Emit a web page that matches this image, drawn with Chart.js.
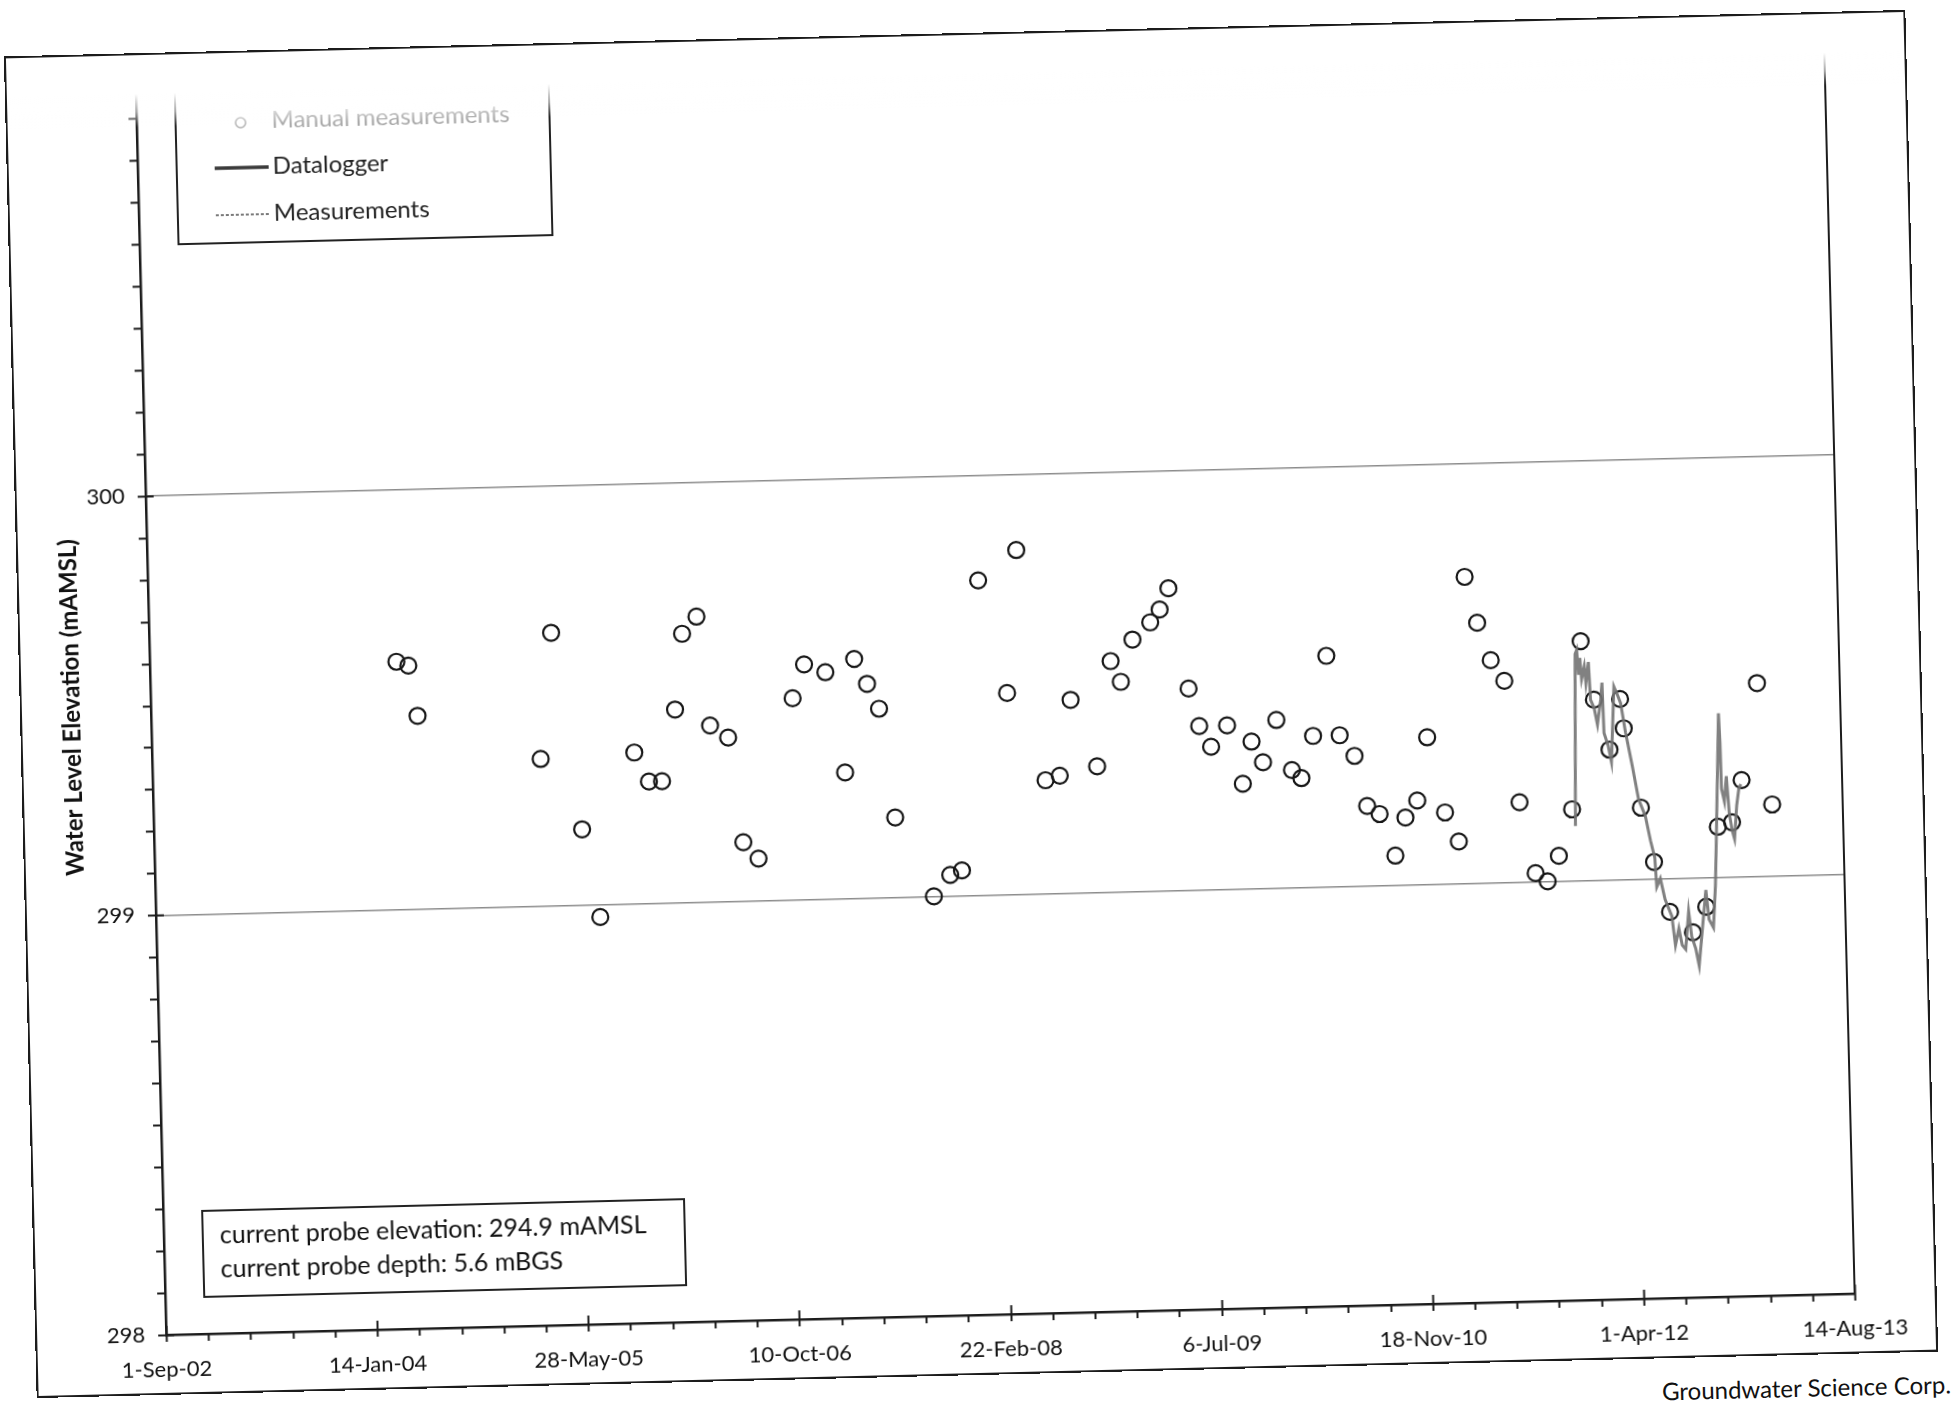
<!DOCTYPE html>
<html>
<head>
<meta charset="utf-8">
<title>Water Level Elevation</title>
<script src="https://cdn.jsdelivr.net/npm/chart.js@4.4.1/dist/chart.umd.min.js"></script>
<style>
  html, body { margin: 0; padding: 0; background: #fff; }
  body { width: 1956px; height: 1401px; overflow: hidden; position: relative; font-family: Lato, "Open Sans", sans-serif; }
  #sheet { position: absolute; left: 20px; top: 33px; width: 1902px; height: 1342px; transform: rotate(-1.4deg); transform-origin: 50% 50%; }
  #chart { position: absolute; left: 0; top: 0; }
  #frame { position: absolute; left: 0; top: 0; width: 1902px; height: 1342px; box-sizing: border-box; border: 2.5px solid #1c1c1c; pointer-events: none; }
  #credit { position: absolute; left: 1625px; top: 1360px; font-size: 24px; color: #111; white-space: nowrap; }
</style>
</head>
<body>
<div id="sheet">
  <canvas id="chart" width="1902" height="1342"></canvas>
  <div id="frame"></div>
  <div id="credit">Groundwater Science Corp.</div>
</div>
<script>
// ===== Data =====
const manualDates = [
  "2004-04-07", "2004-05-05", "2004-05-24", "2005-03-09", "2005-04-10", "2005-06-11", "2005-07-19", "2005-10-17", "2005-11-19", "2005-12-20",
  "2006-01-24", "2006-02-14", "2006-03-21", "2006-04-16", "2006-05-28", "2006-06-27", "2006-08-01", "2006-10-30", "2006-11-28", "2007-01-17",
  "2007-02-27", "2007-03-27", "2007-04-25", "2007-05-22", "2007-06-23", "2007-09-18", "2007-10-28", "2007-11-25", "2008-01-19", "2008-03-21",
  "2008-04-20", "2008-06-15", "2008-07-19", "2008-08-18", "2008-10-16", "2008-11-23", "2008-12-16", "2009-01-15", "2009-02-27", "2009-03-22",
  "2009-04-13", "2009-05-25", "2009-06-17", "2009-07-14", "2009-08-22", "2009-09-25", "2009-10-18", "2009-11-13", "2009-12-17", "2010-01-20",
  "2010-02-11", "2010-03-13", "2010-04-18", "2010-05-15", "2010-06-18", "2010-07-15", "2010-08-13", "2010-09-17", "2010-10-13", "2010-11-11",
  "2010-12-08", "2011-01-15", "2011-02-15", "2011-03-16", "2011-04-12", "2011-05-12", "2011-06-12", "2011-07-11", "2011-08-14", "2011-09-11",
  "2011-10-09", "2011-11-12", "2011-12-12", "2012-01-09", "2012-02-12", "2012-03-11", "2012-03-18", "2012-04-23", "2012-05-21", "2012-06-25",
  "2012-08-17", "2012-09-19", "2012-10-21", "2012-11-24", "2012-12-19", "2013-01-30", "2013-02-28"
];
const manualLevels = [
  299.59, 299.58, 299.46, 299.35, 299.65, 299.18, 298.97, 299.36, 299.29, 299.29,
  299.46, 299.64, 299.68, 299.42, 299.39, 299.14, 299.10, 299.48, 299.56, 299.54,
  299.30, 299.57, 299.51, 299.45, 299.19, 299.00, 299.05, 299.06, 299.75, 299.48,
  299.82, 299.27, 299.28, 299.46, 299.30, 299.55, 299.50, 299.60, 299.64, 299.67,
  299.72, 299.48, 299.39, 299.34, 299.39, 299.25, 299.35, 299.30, 299.40, 299.28,
  299.26, 299.36, 299.55, 299.36, 299.31, 299.19, 299.17, 299.07, 299.16, 299.20,
  299.35, 299.17, 299.10, 299.73, 299.62, 299.53, 299.48, 299.19, 299.02, 299.00,
  299.06, 299.17, 299.57, 299.43, 299.31, 299.43, 299.36, 299.17, 299.04, 298.92,
  298.87, 298.93, 299.12, 299.13, 299.23, 299.46, 299.17
];

const loggerDates = [
  "2011-11-19", "2011-11-28", "2011-12-02", "2011-12-05", "2011-12-09", "2011-12-12", "2011-12-19", "2011-12-22", "2011-12-29", "2012-01-01",
  "2012-01-09", "2012-01-16", "2012-01-25", "2012-01-29", "2012-01-31", "2012-02-09", "2012-02-16", "2012-02-26", "2012-03-05", "2012-03-12",
  "2012-03-22", "2012-04-05", "2012-04-18", "2012-05-03", "2012-05-14", "2012-05-23", "2012-05-26", "2012-06-04", "2012-06-14", "2012-06-29",
  "2012-07-06", "2012-07-15", "2012-07-22", "2012-07-30", "2012-08-08", "2012-08-14", "2012-08-23", "2012-08-30", "2012-09-09", "2012-09-19",
  "2012-09-25", "2012-10-05", "2012-10-12", "2012-10-18", "2012-10-29", "2012-10-31", "2012-11-01", "2012-11-07", "2012-11-13", "2012-11-18",
  "2012-11-24", "2012-11-29", "2012-12-06", "2012-12-12", "2012-12-17"
];
const loggerLevels = [
  299.13, 299.54, 299.55, 299.49, 299.53, 299.48, 299.51, 299.47, 299.52, 299.43,
  299.41, 299.37, 299.43, 299.47, 299.35, 299.32, 299.28, 299.46, 299.44, 299.42,
  299.35, 299.27, 299.19, 299.15, 299.09, 299.05, 298.98, 299.00, 298.95, 298.91,
  298.84, 298.88, 298.84, 298.83, 298.92, 298.86, 298.83, 298.79, 298.88, 298.97,
  298.90, 298.88, 298.98, 299.12, 299.39, 299.32, 299.21, 299.18, 299.24, 299.15,
  299.11, 299.09, 299.17, 299.21, 299.22
];

const xTickLabels = ["1-Sep-02", "14-Jan-04", "28-May-05", "10-Oct-06", "22-Feb-08", "6-Jul-09", "18-Nov-10", "1-Apr-12", "14-Aug-13"];
const yTickLabels = ["298", "299", "300", "301"];
const legendLabels = ["Manual measurements", "Datalogger", "Measurements"];
const probeNotes = ["current probe elevation: 294.9 mAMSL", "current probe depth: 5.6 mBGS"];

// ===== Helpers =====
function dayNum(s) {
    const [y, m, d] = s.split("-").map(Number);
    return Date.UTC(y, m - 1, d) / 864e5;
}
const xStart = dayNum("2002-09-01");
const xStep = 500;
const xEnd = xStart + xStep * (xTickLabels.length - 1);

const manualPoints = manualDates.map((d, i) => ({ x: dayNum(d), y: manualLevels[i] }));
const loggerPoints = loggerDates.map((d, i) => ({ x: dayNum(d), y: loggerLevels[i] }));

Chart.defaults.font.family = "Lato, 'Open Sans', sans-serif";
Chart.defaults.color = "#111";

// ===== Tick marks, plot border, legend box, probe note =====
const decorPlugin = {
    id: "decor",
    afterDraw(chart) {
        const { ctx, chartArea: a, scales: { x, y } } = chart;
        ctx.save();

        // Plot area right edge
        ctx.strokeStyle = "#1c1c1c";
        ctx.lineWidth = 2;
        ctx.beginPath();
        ctx.moveTo(a.right, a.top);
        ctx.lineTo(a.right, a.bottom);
        ctx.stroke();

        // Y ticks: minor outside, major crossing the axis
        for (let i = 0; i <= 30; i++) {
            const py = Math.round(y.getPixelForValue(298 + i / 10)) + 0.5;
            const major = i % 10 === 0;
            ctx.beginPath();
            ctx.moveTo(a.left - 8, py);
            ctx.lineTo(major ? a.left + 8 : a.left, py);
            ctx.stroke();
        }
        // X ticks every 100 days, labelled ones cross the axis
        for (let i = 0; i <= 40; i++) {
            const px = Math.round(x.getPixelForValue(xStart + i * 100)) + 0.5;
            const major = i % 5 === 0;
            ctx.beginPath();
            ctx.moveTo(px, major ? a.bottom - 9 : a.bottom);
            ctx.lineTo(px, a.bottom + 7);
            ctx.stroke();
        }

        // Legend
        const lx = a.left + 39, ly = 35, lw = 374, lh = 157;
        ctx.lineWidth = 2;
        ctx.strokeStyle = "#222";
        ctx.strokeRect(lx, ly, lw, lh);
        ctx.font = "24px Lato";
        ctx.textBaseline = "middle";
        ctx.textAlign = "left";

        ctx.strokeStyle = "#b0b0b0";
        ctx.lineWidth = 1.5;
        ctx.beginPath();
        ctx.arc(lx + 65, 72, 5, 0, Math.PI * 2);
        ctx.stroke();
        ctx.fillStyle = "#a8a8a8";
        ctx.fillText(legendLabels[0], lx + 96, 70);

        ctx.strokeStyle = "#3a3a3a";
        ctx.lineWidth = 3.5;
        ctx.beginPath();
        ctx.moveTo(lx + 38, 117);
        ctx.lineTo(lx + 92, 117);
        ctx.stroke();
        ctx.fillStyle = "#222";
        ctx.fillText(legendLabels[1], lx + 96, 116);

        ctx.strokeStyle = "#7a7a7a";
        ctx.lineWidth = 2;
        ctx.setLineDash([3, 2]);
        ctx.beginPath();
        ctx.moveTo(lx + 38, 164);
        ctx.lineTo(lx + 92, 164);
        ctx.stroke();
        ctx.setLineDash([]);
        ctx.fillText(legendLabels[2], lx + 96, 163);

        // Probe note box
        const bx = a.left + 39, by = 1159, bw = 482, bh = 86;
        ctx.strokeStyle = "#222";
        ctx.lineWidth = 2;
        ctx.strokeRect(bx, by, bw, bh);
        ctx.font = "25px Lato";
        ctx.fillStyle = "#111";
        ctx.fillText(probeNotes[0], bx + 17, 1184);
        ctx.fillText(probeNotes[1], bx + 17, 1218);

        // Faded strip along the top edge of the sheet
        const g = ctx.createLinearGradient(0, 0, 0, 74);
        g.addColorStop(0, "rgba(255,255,255,1)");
        g.addColorStop(0.55, "rgba(255,255,255,1)");
        g.addColorStop(0.8, "rgba(255,255,255,0.6)");
        g.addColorStop(1, "rgba(255,255,255,0)");
        ctx.fillStyle = g;
        ctx.fillRect(0, 0, chart.width, 74);

        ctx.restore();
    }
};

// ===== Chart =====
new Chart(document.getElementById("chart"), {
    type: "scatter",
    data: {
        datasets: [
            {
                label: "Datalogger",
                type: "line",
                data: loggerPoints,
                borderColor: "rgba(115,115,115,0.9)",
                borderWidth: 3,
                pointRadius: 0,
                tension: 0,
                order: 0
            },
            {
                label: "Manual measurements",
                data: manualPoints,
                showLine: false,
                pointStyle: "circle",
                pointRadius: 8,
                borderWidth: 2.2,
                borderColor: "#161616",
                backgroundColor: "rgba(0,0,0,0)",
                order: 1
            }
        ]
    },
    options: {
        responsive: false,
        animation: false,
        events: [],
        layout: { padding: { left: 0, right: 82, top: 23, bottom: 0 } },
        plugins: {
            legend: { display: false },
            tooltip: { enabled: false }
        },
        scales: {
            x: {
                type: "linear",
                position: "bottom",
                min: xStart,
                max: xEnd,
                afterFit(scale) { scale.height = 60; },
                ticks: {
                    stepSize: xStep,
                    padding: 22,
                    maxRotation: 0,
                    autoSkip: false,
                    font: { size: 22 },
                    color: "#111",
                    callback: (value, index) => xTickLabels[index]
                },
                grid: { drawOnChartArea: false, drawTicks: false },
                border: { display: true, color: "#1c1c1c", width: 2.5 }
            },
            y: {
                min: 298,
                max: 301,
                // fixed axis width; drop the label overhang so the top padding alone sets the plot top
                afterFit(scale) {
                    scale.width = 131;
                    scale.paddingTop = 0;
                    scale.paddingBottom = 0;
                },
                ticks: {
                    stepSize: 1,
                    padding: 21,
                    font: { size: 22 },
                    color: "#111",
                    callback: (value, index) => yTickLabels[index]
                },
                grid: {
                    drawTicks: false,
                    lineWidth: 1.5,
                    color: ctx => (ctx.tick && (ctx.tick.value === 299 || ctx.tick.value === 300)) ? "#8c8c8c" : "rgba(0,0,0,0)"
                },
                border: { display: true, color: "#1c1c1c", width: 2.5 },
                title: {
                    display: true,
                    text: "Water Level Elevation (mAMSL)",
                    font: { size: 24, weight: "bold" },
                    color: "#111",
                    padding: { top: 38, bottom: 0 }
                }
            }
        }
    },
    plugins: [decorPlugin]
});
</script>
</body>
</html>
